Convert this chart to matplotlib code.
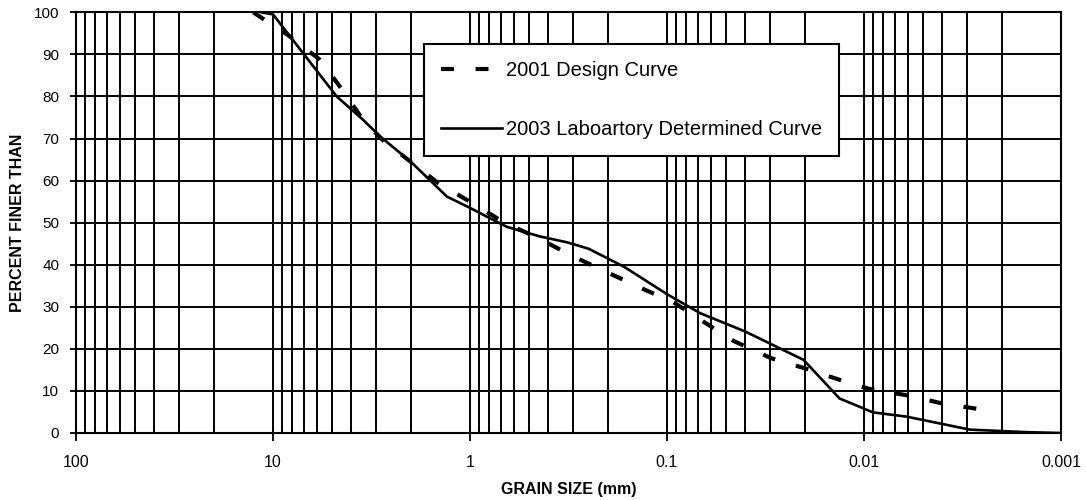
import matplotlib
matplotlib.use("Agg")
import matplotlib.pyplot as plt
from matplotlib.ticker import FixedLocator, FixedFormatter, LogLocator, NullFormatter

plt.rcParams['font.family'] = ['Liberation Sans', 'DejaVu Sans']

# Gradation data: grain size (mm) vs percent finer
design_size = [12.6, 8.4, 5.77, 4.36, 3.49, 2.77, 1.45, 0.977, 0.664, 0.452, 0.31,
               0.197, 0.126, 0.093, 0.065, 0.046, 0.0297, 0.0188, 0.0123, 0.00944,
               0.00612, 0.00407, 0.00255]
design_pct = [100, 94.6, 88.7, 81, 74.4, 69.6, 59.4, 54.7, 49.9, 46.4, 42.3,
              38, 33.8, 31.1, 26.4, 21.9, 17.8, 15, 12.1, 10.5,
              9, 7.1, 5.6]

lab_size = [11.5, 10.0, 4.75, 3.5, 2.86, 2.0, 1.31, 1.0, 0.65, 0.44, 0.32, 0.25,
            0.165, 0.10, 0.068, 0.040, 0.0203, 0.0133, 0.009, 0.0061, 0.0029,
            0.0015, 0.001]
lab_pct = [100, 99.5, 80, 74.5, 70.5, 64.5, 56.2, 53.5, 49, 46.7, 45.3, 43.8,
           39.5, 33.0, 28.5, 24.1, 17.4, 8.2, 4.9, 3.9, 0.8,
           0.2, 0]

x_ticks = [100, 10, 1, 0.1, 0.01, 0.001]
x_tick_labels = ["100", "10", "1", "0.1", "0.01", "0.001"]
y_ticks = list(range(0, 101, 10))

series_labels = ["2001 Design Curve", "2003 Laboartory Determined Curve"]

fig = plt.figure(figsize=(10.86, 5.0), dpi=100)
ax = fig.add_axes([76 / 1086, 67 / 500, 985 / 1086, 420.7 / 500])

ax.set_xscale('log')
ax.set_xlim(100, 0.001)
ax.set_ylim(0, 100)

ax.plot(design_size, design_pct, color='black', lw=3.0,
        linestyle=(0, (3.1, 5.2)), label=series_labels[0], zorder=4)
ax.plot(lab_size, lab_pct, color='black', lw=1.9, solid_joinstyle='round',
        label=series_labels[1], zorder=5)

ax.xaxis.set_major_locator(FixedLocator(x_ticks))
ax.xaxis.set_major_formatter(FixedFormatter(x_tick_labels))
ax.xaxis.set_minor_locator(LogLocator(base=10, subs=range(2, 10), numticks=20))
ax.xaxis.set_minor_formatter(NullFormatter())
ax.set_yticks(y_ticks)

ax.grid(which='major', axis='both', color='black', lw=1.4)
ax.grid(which='minor', axis='x', color='black', lw=1.4)
ax.set_axisbelow(True)

ax.tick_params(axis='x', which='major', direction='out', length=6, width=1.3,
               labelsize=11.5, pad=10)
ax.tick_params(axis='x', which='minor', length=0)
ax.tick_params(axis='y', which='major', direction='out', length=4, width=1.3,
               labelsize=11, pad=8)

for sp in ax.spines.values():
    sp.set_color('black')
    sp.set_linewidth(1.5)

ax.set_xlabel("GRAIN SIZE (mm)", fontsize=11.5, fontweight='bold', labelpad=8.5)
ax.set_ylabel("PERCENT FINER THAN", fontsize=11.5, fontweight='bold', labelpad=6)

leg = ax.legend(loc='upper left', bbox_to_anchor=((424.3 - 76) / 985, (433 - 44.0) / 420.7),
                frameon=True, fancybox=False, fontsize=14.5, handlelength=3.0,
                handletextpad=0.2, borderpad=0.85, labelspacing=1.96,
                borderaxespad=0.0)
leg.get_frame().set_edgecolor('black')
leg.get_frame().set_linewidth(1.5)
leg.get_frame().set_alpha(1.0)

fig.savefig("out.png", dpi=100)
